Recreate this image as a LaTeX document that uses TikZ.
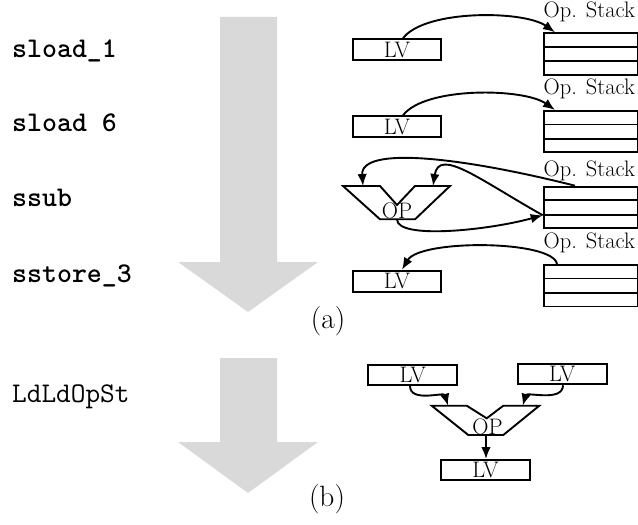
\documentclass[tikz,border=0pt]{standalone}
\usetikzlibrary{arrows.meta,calc}
\definecolor{arrowgray}{RGB}{217,217,217}
\begin{document}
\begin{tikzpicture}[x=1bp,y=-1bp,
  lw/.style={line width=1.9bp},
  smallfont/.style={font=\fontsize{22.5}{26}\selectfont},
  lvbox/.style={draw,lw,rectangle,minimum width=88bp,minimum height=21bp,inner sep=0pt,smallfont},
  stackbox/.style={draw,lw,rectangle,minimum width=94.3bp,minimum height=41.5bp,inner sep=0pt,anchor=north west},
  stacklbl/.style={anchor=base west,inner sep=0pt,smallfont},
  oplbl/.style={anchor=base,inner sep=0pt,smallfont},
  instr/.style={anchor=base west,inner sep=0pt,font=\fontsize{28.6}{34}\selectfont\ttfamily\bfseries},
  instrreg/.style={anchor=base west,inner sep=0pt,font=\fontsize{28.6}{34}\selectfont\ttfamily},
  captionlbl/.style={anchor=center,inner sep=0pt,font=\fontsize{29.5}{35}\selectfont},
  conn/.style={lw,-{Latex[length=12bp,width=9.5bp]}},
  bigarrow/.style={fill=arrowgray,draw=none}]
\useasboundingbox (0,0) rectangle (638,525);

% big gray arrows
\fill[bigarrow] (220,17) -- (277,17) -- (277,262) -- (318,262) -- (248,312) -- (178,262) -- (220,262) -- cycle;
\fill[bigarrow] (220,358) -- (277,358) -- (277,442) -- (318,442) -- (248,493) -- (178,442) -- (220,442) -- cycle;

% instruction labels
\node[instr] (i1) at (12,58) {sload\_1};
\node[instr] (i2) at (12,132) {sload 6};
\node[instr] (i3) at (12,207) {ssub};
\node[instr] (i4) at (12,282) {sstore\_3};
\node[instrreg] (i5) at (12,402) {LdLdOpSt};

\node[captionlbl] (capa) at (328,321) {(a)};
\node[captionlbl] (capb) at (327,499) {(b)};

% stacks
\foreach \n/\t/\lb in {1/32.3/17.5, 2/110/95, 3/185.7/177, 4/264/248.5}{
  \node[stackbox] (s\n) at (542.7,\t) {};
  \draw[lw] ($(s\n.north west)!1/3!(s\n.south west)$) -- ($(s\n.north east)!1/3!(s\n.south east)$);
  \draw[lw] ($(s\n.north west)!2/3!(s\n.south west)$) -- ($(s\n.north east)!2/3!(s\n.south east)$);
  \node[stacklbl] (sl\n) at (543.5,\lb) {Op. Stack};
}

% LV boxes (a)
\node[lvbox] (lv1) at (397,49.7) {LV};
\node[lvbox] (lv2) at (397,126.8) {LV};
\node[lvbox] (lv4) at (397,281.2) {LV};

% OP trapezoid (a)
\draw[lw,line join=miter] (343,186) -- (380,186) -- (397,205) -- (415,186) -- (450,186) -- (415,219.3) -- (380,219.3) -- cycle;
\node[oplbl] (opa) at (397,218.5) {OP};
\coordinate (opain1) at (363,186);
\coordinate (opain2) at (433,186);
\coordinate (opaout) at (397,219.3);
\coordinate (s3in) at ($(s3.north west)!0.68!(s3.south west)$);
\coordinate (s3top) at ($(s3.north west)+(32.3,0)$);

% connectors (a)
\draw[conn] ([xshift=6bp]lv1.north) .. controls +(22,-29) and +(-31,-22) .. ($(s1.north west)+(12.3,0)$);
\draw[conn] ([xshift=6bp]lv2.north) .. controls +(22,-29) and +(-31,-22) .. ($(s2.north west)+(12.3,0)$);
\draw[conn] (s3top) .. controls (465,158) and (360,145) .. (opain1);
\draw[conn] (s3in) .. controls (480,180) and (439,147) .. (opain2);
\draw[conn] (opaout) .. controls (397,240) and (490,230) .. (s3in);
\draw[conn] ($(s4.north west)+(14.3,0)$) .. controls +(-4,-24) and +(18,-30.7) .. ([xshift=5bp]lv4.north);

% (b)
\node[lvbox,minimum height=20bp,minimum width=89bp] (lvL) at (412.8,375) {LV};
\node[lvbox,minimum height=20bp,minimum width=89bp] (lvR) at (562.2,374.3) {LV};
\node[lvbox,minimum height=20bp,minimum width=89bp] (lvB) at (485.5,470) {LV};
\draw[lw,line join=miter] (431.7,405.7) -- (466.7,405.7) -- (486.7,418.3) -- (503.3,405.7) -- (539.3,405.7) -- (503.3,435) -- (468.3,435) -- cycle;
\node[oplbl] (opb) at (487.5,434) {OP};
\coordinate (opbin1) at (448,405.7);
\coordinate (opbin2) at (522.7,405.7);
\coordinate (opbout) at (486,435);
\draw[conn] ([xshift=-2.8bp]lvL.south) .. controls +(0,17) and +(-4,-14) .. (opbin1);
\draw[conn] ([xshift=0.8bp]lvR.south) .. controls +(0,17) and +(4,-14) .. (opbin2);
\draw[conn] (opbout) -- (opbout |- lvB.north);
\end{tikzpicture}
\end{document}
